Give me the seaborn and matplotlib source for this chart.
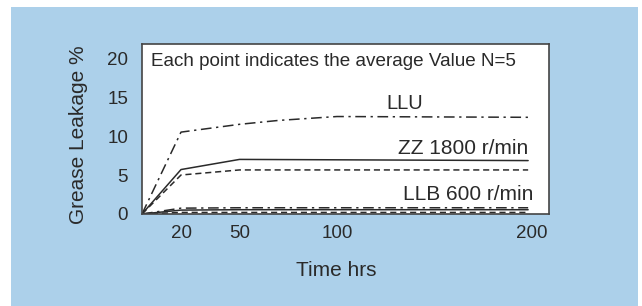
import numpy as np
import pandas as pd
import matplotlib.pyplot as plt
from matplotlib.patches import Rectangle
import seaborn as sns

# data
llu_t = [0, 20, 50, 70, 100, 198]
llu_v = [0, 10.5, 11.5, 12.0, 12.5, 12.4]
zz_solid_t = [0, 20, 50, 198]
zz_solid_v = [0, 5.7, 7.0, 6.85]
zz_dash_t = [0, 20, 50, 198]
zz_dash_v = [0, 5.0, 5.65, 5.65]
llb_dashdot_t = [0, 20, 50, 198]
llb_dashdot_v = [0, 0.75, 0.8, 0.8]
llb_solid_t = [0, 20, 50, 198]
llb_solid_v = [0, 0.5, 0.55, 0.55]
llb_dash_t = [0, 20, 50, 198]
llb_dash_v = [0, 0.2, 0.2, 0.2]

x_ticks = [20, 50, 100, 200]
y_ticks = [0, 5, 10, 15, 20]

sns.set_style("white")
plt.rcParams["font.family"] = ["Liberation Sans", "DejaVu Sans"]

W, H = 642, 306
fig = plt.figure(figsize=(W / 100, H / 100), dpi=100)
fig.patches.append(Rectangle((11 / W, 0), (638 - 11) / W, 1 - 7 / H, transform=fig.transFigure,
                             facecolor="#acd0ea", edgecolor="none", zorder=-1))
ax = fig.add_axes([142 / W, (H - 214) / H, (549 - 142) / W, (214 - 44) / H])

ink = "#2a2a2a"
dashdot = (0, (7, 3, 1.5, 3))
dashed = (0, (4, 2.5))
series = [
    (llu_t, llu_v, dashdot),
    (zz_solid_t, zz_solid_v, "-"),
    (zz_dash_t, zz_dash_v, dashed),
    (llb_dashdot_t, llb_dashdot_v, dashdot),
    (llb_solid_t, llb_solid_v, "-"),
    (llb_dash_t, llb_dash_v, dashed),
]
for t, v, ls in series:
    df = pd.DataFrame({"t": t, "v": v})
    sns.lineplot(data=df, x="t", y="v", ax=ax, color=ink, linewidth=1.1, linestyle=ls)

ax.set_xlim(0, 208.7)
ax.set_ylim(0, 21.8)
ax.set_xticks(x_ticks)
ax.set_yticks(y_ticks)
ax.tick_params(axis="both", direction="out", length=5, width=0.8, color=ink,
               labelsize=13.5, labelcolor=ink)
ax.tick_params(axis="y", pad=5)
ax.tick_params(axis="x", pad=3)
for s in ax.spines.values():
    s.set_color("#444444")
    s.set_linewidth(1.2)

ax.set_xlabel("Time hrs", fontsize=15, color=ink, va="center")
ax.xaxis.set_label_coords(0.477, -0.33)
ax.set_ylabel("Grease Leakage %", fontsize=15, color=ink, va="center")
ax.yaxis.set_label_coords(-0.157, 0.465)

ax.text(4.6, 19.5, "Each point indicates the average Value N=5", fontsize=13.6, color=ink,
        ha="left", va="center")
ax.text(134.9, 14.2, "LLU", fontsize=14.5, color=ink, ha="center", va="center")
ax.text(198, 8.46, "ZZ 1800 r/min", fontsize=15, color=ink, ha="right", va="center")
ax.text(200.5, 2.56, "LLB 600 r/min", fontsize=15, color=ink, ha="right", va="center")

fig.savefig("out.png", dpi=100)
